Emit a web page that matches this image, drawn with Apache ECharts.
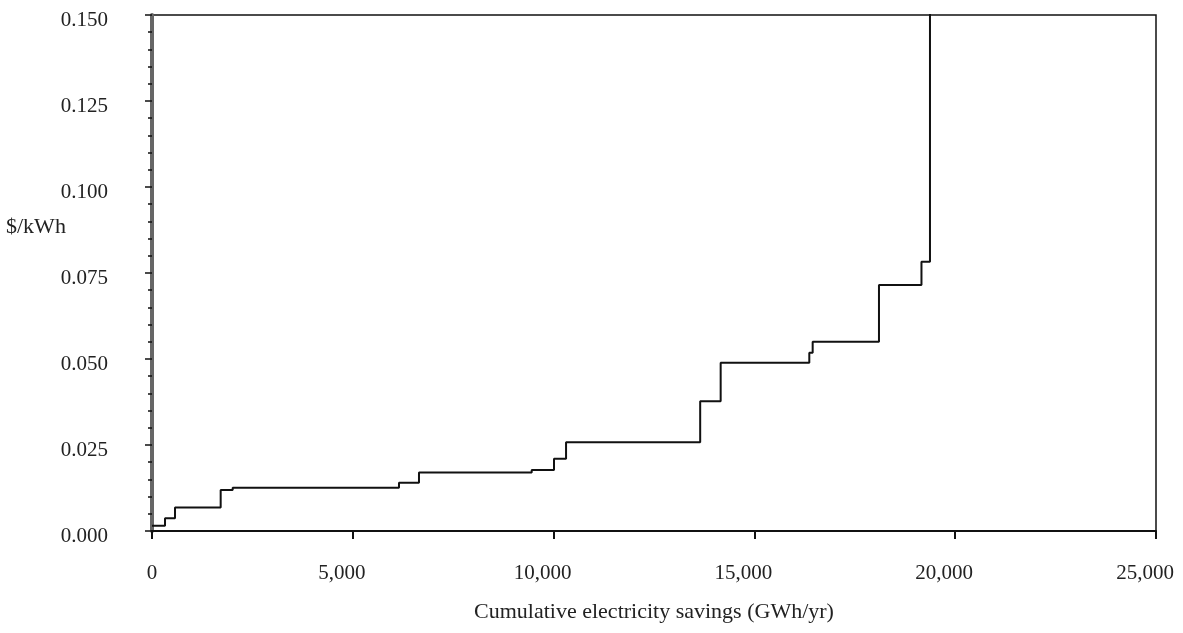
<!DOCTYPE html>
<html>
<head>
<meta charset="utf-8">
<script src="https://cdn.jsdelivr.net/npm/echarts@6/dist/echarts.min.js"></script>
<style>
html,body{margin:0;padding:0;background:#fff;}
#chart{width:1183px;height:633px;}
</style>
</head>
<body>
<div id="chart"></div>
<script>
// Start of each cost block on the cumulative savings axis (GWh/yr)
var savingsStart = [0, 324, 573, 1710, 2009, 6150, 6648, 9455, 10010, 10310, 13650, 14160, 16367, 16451, 18102, 19160, 19372];
// Cost of saved electricity for each block ($/kWh)
var costPerKWh = [0.0015, 0.0037, 0.0068, 0.0119, 0.0126, 0.0140, 0.0170, 0.0177, 0.0210, 0.0258, 0.0377, 0.0489, 0.0518, 0.0550, 0.0715, 0.0783, 0.1700];
var xTicks = [0, 5000, 10000, 15000, 20000, 25000];
var yTicks = [0, 0.025, 0.05, 0.075, 0.1, 0.125, 0.15];

var stepData = savingsStart.map(function (x, i) { return [x, costPerKWh[i]]; });

var serif = "'Liberation Serif', 'DejaVu Serif', serif";
var chart = echarts.init(document.getElementById('chart'));
chart.setOption({
  animation: false,
  backgroundColor: '#fff',
  grid: {left: 152, right: 27, top: 15, bottom: 102, show: true, borderColor: '#111', borderWidth: 1.5, backgroundColor: 'transparent'},
  xAxis: {
    type: 'value', min: xTicks[0], max: xTicks[xTicks.length - 1], interval: 5000,
    name: 'Cumulative electricity savings (GWh/yr)', nameLocation: 'middle', nameGap: 70,
    nameTextStyle: {fontFamily: serif, fontSize: 22, color: '#222'},
    axisLine: {show: true, onZero: false, lineStyle: {color: '#111', width: 2}},
    axisTick: {show: true, inside: false, length: 8, lineStyle: {color: '#111', width: 2}},
    splitLine: {show: false},
    axisLabel: {
      margin: 32, fontFamily: serif, fontSize: 21, color: '#222',
      formatter: function (v) { return v === 0 ? '{z|0}' : '{n|' + v.toLocaleString('en-US') + '}'; },
      rich: {z: {fontFamily: serif, fontSize: 21, color: '#222'}, n: {fontFamily: serif, fontSize: 21, color: '#222', padding: [0, 22, 0, 0]}}
    }
  },
  yAxis: {
    type: 'value', min: yTicks[0], max: yTicks[yTicks.length - 1], interval: 0.025,
    axisLine: {show: true, onZero: false, lineStyle: {color: '#666', width: 4}},
    axisTick: {show: true, inside: false, length: 7, lineStyle: {color: '#111', width: 1.5}},
    minorTick: {show: true, splitNumber: 5, length: 4, lineStyle: {color: '#111', width: 1.5}},
    splitLine: {show: false},
    axisLabel: {
      margin: 44, fontFamily: serif, fontSize: 21, color: '#222',
      verticalAlign: 'top', lineHeight: 10,
      formatter: function (v) { return v.toFixed(3); }
    }
  },
  graphic: [{
    type: 'text', left: 6, top: 216,
    style: {text: '$/kWh', font: "22px 'Liberation Serif', serif", fill: '#222'}
  }],
  series: [{
    type: 'line', step: 'end', data: stepData, showSymbol: false, clip: true,
    lineStyle: {color: '#111', width: 2}
  }]
});
</script>
</body>
</html>
